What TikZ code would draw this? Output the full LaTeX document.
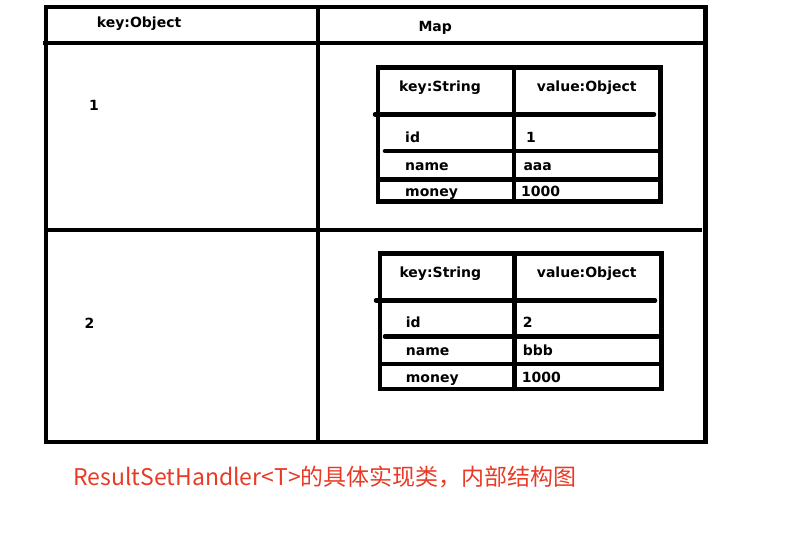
\documentclass[tikz,border=0pt]{standalone}
\usepackage{fontspec}
\setmainfont{DejaVu Sans}
\newfontfamily\cjk{Noto Sans CJK SC}
\definecolor{capred}{RGB}{232,58,38}
\begin{document}
\begin{tikzpicture}[x=1pt,y=-1pt,
  frame/.style={line width=4.5pt},
  rule/.style={line width=4.5pt,line cap=round},
  lbl/.style={inner sep=0pt,anchor=base west,font=\fontsize{14}{16}\selectfont\bfseries},
  num/.style={inner sep=0pt,anchor=base,font=\fontsize{14}{16}\selectfont\bfseries},
  captext/.style={inner sep=0pt,anchor=base west,text=capred,font=\cjk\fontsize{23}{26}\selectfont}]
\useasboundingbox (0,0) rectangle (800,533);
% outer frame
\draw[frame] (46,7) rectangle (705.5,442);
\draw[frame] (43,43) -- (703,43);
\draw[frame] (46,230) -- (702,230);
\draw[frame] (318,7) -- (318,442);
\node[lbl] (k1) at (96.7,27.7) {key:Object};
\node[lbl] (map) at (418.3,31.7) {Map};
\node[num] (n1) at (94,110.7) {1};
\node[num] (n2) at (89.5,328.3) {2};
% table 1
\draw[frame] (378,67.5) rectangle (660.5,201.5);
\draw[frame] (513.8,67.5) -- (513.8,201.5);
\draw[rule] (375,114.5) -- (654,114.5);
\draw[rule] (385,151) -- (657.5,151);
\draw[frame] (378,179.5) -- (660.5,179.5);
\node[lbl] (t1k) at (399,91.7) {key:String};
\node[lbl] (t1v) at (536.7,91.7) {value:Object};
\node[lbl] (t1a) at (405,142.3) {id};
\node[lbl] (t1b) at (526,142.3) {1};
\node[lbl] (t1c) at (405,170) {name};
\node[lbl] (t1d) at (523.3,170) {aaa};
\node[lbl] (t1e) at (405,196) {money};
\node[lbl] (t1f) at (521,196) {1000};
% table 2
\draw[frame] (380,253.5) rectangle (661.5,389);
\draw[frame] (514.7,253.5) -- (514.7,389);
\draw[rule] (376,300.5) -- (655,300.5);
\draw[rule] (385,336.5) -- (658,336.5);
\draw[frame] (380,364) -- (661.5,364);
\node[lbl] (t2k) at (399.3,277.3) {key:String};
\node[lbl] (t2v) at (536.7,277.3) {value:Object};
\node[lbl] (t2a) at (405.7,327.3) {id};
\node[lbl] (t2b) at (522.7,327.3) {2};
\node[lbl] (t2c) at (405.7,355) {name};
\node[lbl] (t2d) at (522.7,355) {bbb};
\node[lbl] (t2e) at (405.7,382.7) {money};
\node[lbl] (t2f) at (521.7,382.7) {1000};
% caption
\node[captext] (caption) at (73.3,485) {ResultSetHandler<T>的具体实现类，内部结构图};
\end{tikzpicture}
\end{document}
